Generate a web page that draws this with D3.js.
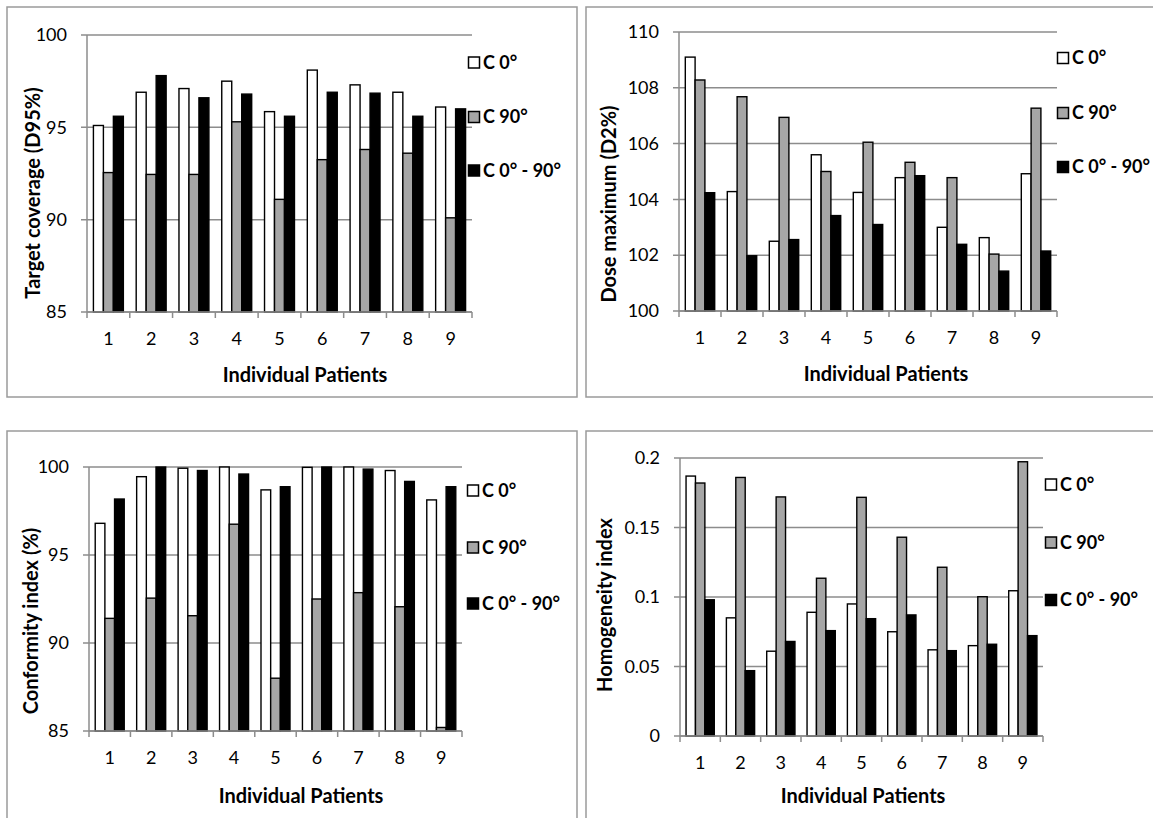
<!DOCTYPE html>
<html>
<head>
<meta charset="utf-8">
<script src="https://cdn.jsdelivr.net/npm/d3@7"></script>
<style>
  body { margin: 0; background: #fff; }
  text { font-family: Lato, "Open Sans", sans-serif; fill: #000; }
</style>
</head>
<body>
<div id="chart"></div>
<script>
// values
var patients = ["1", "2", "3", "4", "5", "6", "7", "8", "9"];
var seriesNames = ["C 0°", "C 90°", "C 0° - 90°"];

var coverage0 = [95.1, 96.9, 97.1, 97.5, 95.85, 98.1, 97.3, 96.9, 96.1];
var coverage90 = [92.55, 92.45, 92.45, 95.3, 91.1, 93.25, 93.8, 93.6, 90.1];
var coverage0to90 = [95.6, 97.8, 96.6, 96.8, 95.6, 96.9, 96.85, 95.6, 96.0];

var doseMax0 = [109.1, 104.28, 102.5, 105.6, 104.25, 104.78, 103.0, 102.63, 104.92];
var doseMax90 = [108.28, 107.68, 106.94, 105.0, 106.05, 105.33, 104.78, 102.04, 107.27];
var doseMax0to90 = [104.24, 101.98, 102.56, 103.42, 103.1, 104.85, 102.39, 101.43, 102.15];

var conformity0 = [96.8, 99.45, 99.93, 100, 98.7, 99.98, 100, 99.8, 98.13];
var conformity90 = [91.4, 92.55, 91.55, 96.75, 88.0, 92.5, 92.86, 92.06, 85.2];
var conformity0to90 = [98.18, 100, 99.8, 99.6, 98.88, 100, 99.88, 99.18, 98.88];

var homogeneity0 = [0.187, 0.085, 0.061, 0.089, 0.095, 0.075, 0.062, 0.065, 0.1045];
var homogeneity90 = [0.182, 0.186, 0.172, 0.1135, 0.1717, 0.143, 0.1214, 0.1002, 0.1973];
var homogeneity0to90 = [0.098, 0.047, 0.068, 0.0758, 0.0844, 0.0871, 0.0614, 0.066, 0.0722];

var coverageTicks = [85, 90, 95, 100];
var doseTicks = [100, 102, 104, 106, 108, 110];
var conformityTicks = [85, 90, 95, 100];
var homogeneityTicks = [0, 0.05, 0.1, 0.15, 0.2];

var fills = ["#ffffff", "#a6a6a6", "#000000"];
var gridColor = "#8c8c8c";

var width = 1153;
var height = 818;

var svg = d3.select("#chart")
    .append("svg")
    .attr("width", width)
    .attr("height", height);

svg.append("rect")
    .attr("width", width)
    .attr("height", height)
    .attr("fill", "#fff");

// layout of each panel
var panels = [
    {
        box: [7, 7, 570, 390],
        plot: { left: 87, right: 472, top: 35, bottom: 312 },
        ticks: coverageTicks,
        values: [coverage0, coverage90, coverage0to90],
        yTitle: "Target coverage (D95%)",
        yTitleAt: [33, 193],
        xTitleAt: [305, 382],
        legendX: 468,
        legendY: [62.5, 117, 170.5]
    },
    {
        box: [586, 7, 620, 390],
        plot: { left: 679, right: 1057, top: 32, bottom: 311 },
        ticks: doseTicks,
        values: [doseMax0, doseMax90, doseMax0to90],
        yTitle: "Dose maximum (D2%)",
        yTitleAt: [609, 204],
        xTitleAt: [886, 381],
        legendX: 1057,
        legendY: [58, 113, 167]
    },
    {
        box: [7, 431, 570, 420],
        plot: { left: 89, right: 462, top: 467, bottom: 731 },
        ticks: conformityTicks,
        values: [conformity0, conformity90, conformity0to90],
        yTitle: "Conformity index (%)",
        yTitleAt: [31, 621],
        xTitleAt: [301, 803],
        legendX: 467,
        legendY: [490.5, 547.5, 603.5]
    },
    {
        box: [586, 431, 620, 420],
        plot: { left: 680, right: 1043, top: 458, bottom: 736 },
        ticks: homogeneityTicks,
        values: [homogeneity0, homogeneity90, homogeneity0to90],
        yTitle: "Homogeneity index",
        yTitleAt: [605, 605],
        xTitleAt: [863, 803],
        legendX: 1045,
        legendY: [484.5, 542.5, 600]
    }
];

panels.forEach(drawPanel);

function drawPanel(p) {
    var g = svg.append("g");

    // panel frame
    g.append("rect")
        .attr("x", p.box[0])
        .attr("y", p.box[1])
        .attr("width", p.box[2])
        .attr("height", p.box[3])
        .attr("fill", "none")
        .attr("stroke", "#9a9a9a")
        .attr("stroke-width", 1.5);

    var x = d3.scaleBand()
        .domain(patients)
        .range([p.plot.left, p.plot.right])
        .paddingInner(0.3)
        .paddingOuter(0.15);

    var xs = d3.scaleBand()
        .domain(d3.range(seriesNames.length))
        .range([0, x.bandwidth()]);

    var y = d3.scaleLinear()
        .domain(d3.extent(p.ticks))
        .range([p.plot.bottom, p.plot.top])
        .clamp(true);

    // gridlines, a little past the axis like tick marks
    g.selectAll(".grid")
        .data(p.ticks)
        .enter()
        .append("line")
        .attr("x1", p.plot.left - 6)
        .attr("x2", p.plot.right)
        .attr("y1", function(d) { return y(d); })
        .attr("y2", function(d) { return y(d); })
        .attr("stroke", gridColor)
        .attr("stroke-width", 1.5);

    g.append("line")
        .attr("x1", p.plot.left)
        .attr("x2", p.plot.left)
        .attr("y1", p.plot.top)
        .attr("y2", p.plot.bottom)
        .attr("stroke", gridColor)
        .attr("stroke-width", 1.5);

    // bars
    p.values.forEach(function(vals, s) {
        g.selectAll(".bar" + s)
            .data(vals)
            .enter()
            .append("rect")
            .attr("x", function(d, i) { return x(patients[i]) + xs(s); })
            .attr("width", xs.bandwidth())
            .attr("y", function(d) { return y(d); })
            .attr("height", function(d) { return p.plot.bottom - y(d); })
            .attr("fill", fills[s])
            .attr("stroke", "#000")
            .attr("stroke-width", 1.4);
    });

    // category boundary ticks on the x axis
    var step = x.step();
    var edges = d3.range(patients.length + 1).map(function(i) {
        return p.plot.left + i * step;
    });
    g.selectAll(".xtick")
        .data(edges)
        .enter()
        .append("line")
        .attr("x1", function(d) { return d; })
        .attr("x2", function(d) { return d; })
        .attr("y1", p.plot.bottom)
        .attr("y2", p.plot.bottom + 6)
        .attr("stroke", gridColor)
        .attr("stroke-width", 1.5);

    g.append("line")
        .attr("x1", p.plot.left)
        .attr("x2", p.plot.right)
        .attr("y1", p.plot.bottom)
        .attr("y2", p.plot.bottom)
        .attr("stroke", gridColor)
        .attr("stroke-width", 1.5);

    // tick labels
    var xAxis = g.append("g")
        .attr("transform", "translate(0," + p.plot.bottom + ")")
        .call(d3.axisBottom(x).tickSize(0).tickPadding(20));
    xAxis.select(".domain").remove();
    xAxis.selectAll("text")
        .style("font-size", "18px")
        .style("font-family", "Lato, sans-serif");

    var yAxis = g.append("g")
        .attr("transform", "translate(" + (p.plot.left - 20) + ",0)")
        .call(d3.axisLeft(y).tickValues(p.ticks).tickSize(0).tickPadding(0)
            .tickFormat(function(d) { return String(d); }));
    yAxis.select(".domain").remove();
    yAxis.selectAll("text")
        .style("font-size", "18px")
        .style("font-family", "Lato, sans-serif");

    // axis titles
    g.append("text")
        .attr("x", p.xTitleAt[0])
        .attr("y", p.xTitleAt[1])
        .attr("text-anchor", "middle")
        .style("font-size", "20px")
        .style("font-weight", "bold")
        .text("Individual Patients");

    g.append("text")
        .attr("transform", "translate(" + p.yTitleAt[0] + "," + p.yTitleAt[1] + ")rotate(-90)")
        .attr("text-anchor", "middle")
        .attr("dy", "0.35em")
        .style("font-size", "20px")
        .style("font-weight", "bold")
        .text(p.yTitle);

    // legend
    seriesNames.forEach(function(name, s) {
        var cy = p.legendY[s];
        g.append("rect")
            .attr("x", p.legendX + 0.5)
            .attr("y", cy - 5.5)
            .attr("width", 11)
            .attr("height", 11)
            .attr("fill", fills[s])
            .attr("stroke", "#000")
            .attr("stroke-width", 1.5);
        g.append("text")
            .attr("x", p.legendX + 15)
            .attr("y", cy)
            .attr("dy", "0.36em")
            .style("font-size", "18px")
            .style("font-weight", "bold")
            .text(name);
    });
}
</script>
</body>
</html>
